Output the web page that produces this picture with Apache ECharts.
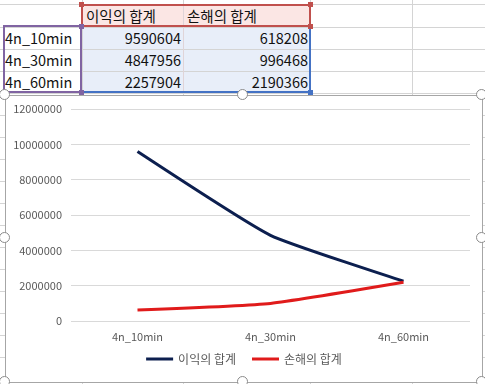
<!DOCTYPE html>
<html>
<head>
<meta charset="utf-8">
<script src="https://cdn.jsdelivr.net/npm/echarts@6/dist/echarts.min.js"></script>
<style>
  html, body { margin:0; padding:0; width:485px; height:384px; overflow:hidden; background:#fff; }
  body { position:relative; font-family:"Noto Sans CJK KR","Noto Sans",sans-serif; }
  .gl { position:absolute; background:#D4D4D4; }
  .cell { position:absolute; box-sizing:border-box; font-size:14.5px; color:#111; line-height:22px; white-space:nowrap; }
  .bd { position:absolute; }
  .sq { position:absolute; width:5px; height:5px; }
  #chartBox { position:absolute; left:5px; top:95px; width:476px; height:286px; border:1px solid #A6A6A6; background:#fff; }
  #chart { width:476px; height:286px; }
  .handle { position:absolute; width:9px; height:9px; border:1.5px solid #8A8A8A; border-radius:50%; background:#fff; }
</style>
</head>
<body>
<div id="sheet"></div>
<div id="chartBox"><div id="chart"></div></div>
<div id="handles"></div>
<script>
// ---- data ----
const categories = ['4n_10min', '4n_30min', '4n_60min'];
const seriesNames = ['이익의 합계', '손해의 합계'];
const profitValues = [9590604, 4847956, 2257904];
const lossValues = [618208, 996468, 2190366];
const yTicks = [0, 2000000, 4000000, 6000000, 8000000, 10000000, 12000000];

// ---- spreadsheet drawing ----
const sheet = document.getElementById('sheet');
const colX = [0, 82, 183, 310, 412, 485];
const rowY = [4, 27, 49, 71, 93, 115, 137, 159, 181, 203, 225, 247, 269, 291, 313, 335, 357, 379];
function add(cls, style, text) {
  const d = document.createElement('div');
  d.className = cls;
  Object.assign(d.style, style);
  if (text !== undefined) d.textContent = text;
  sheet.appendChild(d);
  return d;
}
// fills
add('bd', {left:'82px', top:'4px', width:'228px', height:'23px', background:'#FBE6E4'});
add('bd', {left:'82px', top:'27px', width:'228px', height:'66px', background:'#E8EEF9'});
// grid lines
colX.slice(1, 5).forEach(x => add('gl', {left:x+'px', top:'0px', width:'1px', height:'384px'}));
rowY.forEach(y => add('gl', {left:'0px', top:y+'px', width:'485px', height:'1px'}));
add('gl', {left:'183px', top:'4px', width:'1px', height:'89px', background:'#E0D4D8'});
// header text
seriesNames.forEach((n, i) => {
  add('cell', {left:(colX[i+1]+4)+'px', top:'4px', height:'23px', lineHeight:'23px'}, n);
});
// rows
categories.forEach((c, r) => {
  const top = rowY[r+1];
  add('cell', {left:'5px', top:top+'px'}, c);
  add('cell', {left:'82px', top:top+'px', width:'99px', textAlign:'right'}, String(profitValues[r]));
  add('cell', {left:'183px', top:top+'px', width:'125px', textAlign:'right'}, String(lossValues[r]));
});
// selection borders
const red = '#C0504D', purple = '#8064A2', blue = '#4472C4';
add('bd', {left:'81px', top:'4px', width:'230px', height:'2px', background:red});
add('bd', {left:'81px', top:'25px', width:'230px', height:'2px', background:red});
add('bd', {left:'81px', top:'4px', width:'2px', height:'23px', background:red});
add('bd', {left:'309px', top:'4px', width:'2px', height:'23px', background:red});
add('bd', {left:'3px', top:'25px', width:'79px', height:'2px', background:purple});
add('bd', {left:'3px', top:'91px', width:'79px', height:'2px', background:purple});
add('bd', {left:'3px', top:'25px', width:'2px', height:'68px', background:purple});
add('bd', {left:'80px', top:'25px', width:'2px', height:'68px', background:purple});
add('bd', {left:'84px', top:'91px', width:'227px', height:'2px', background:blue});
add('bd', {left:'309px', top:'29px', width:'2px', height:'64px', background:blue});
[[79,2,red],[308,2,red],[79,24,red],[308,24,red],[79,24,purple],[79,90,purple],[308,90,blue]].forEach(s => {
  add('sq', {left:s[0]+'px', top:s[1]+'px', background:s[2]});
});

// ---- chart ----
const chart = echarts.init(document.getElementById('chart'), null, {renderer:'canvas'});
const txt = '#595959';
const font = '"Noto Sans CJK KR","Noto Sans",sans-serif';
chart.setOption({
  animation:false,
  textStyle:{fontFamily:font},
  grid:{left:65, right:12, top:13, bottom:61},
  legend:{
    data:seriesNames, bottom:12, left:'center', itemGap:16,
    itemWidth:27, itemHeight:3, icon:'rect',
    textStyle:{color:txt, fontSize:12, fontFamily:font}
  },
  xAxis:{
    type:'category', data:categories, boundaryGap:true,
    axisLine:{show:false}, axisTick:{show:false},
    axisLabel:{color:txt, fontSize:11, margin:10, fontFamily:font}
  },
  yAxis:{
    type:'value', min:yTicks[0], max:yTicks[yTicks.length-1], interval:yTicks[1]-yTicks[0],
    axisLine:{show:false}, axisTick:{show:false},
    axisLabel:{color:txt, fontSize:11, margin:9, fontFamily:font, formatter:v => String(v)},
    splitLine:{lineStyle:{color:'#D9D9D9', width:1}}
  },
  series:[
    {name:seriesNames[0], type:'line', data:profitValues, smooth:0.15, showSymbol:false, symbol:'none',
     lineStyle:{color:'#0C1F4F', width:3}, itemStyle:{color:'#0C1F4F'}},
    {name:seriesNames[1], type:'line', data:lossValues, smooth:0.15, showSymbol:false, symbol:'none',
     lineStyle:{color:'#E01B1B', width:3}, itemStyle:{color:'#E01B1B'}}
  ]
});

// ---- handles ----
const hs = document.getElementById('handles');
[[5,95],[243,95],[482,95],[5,238],[482,238],[5,382],[243,382],[482,382]].forEach(p => {
  const d = document.createElement('div');
  d.className = 'handle';
  d.style.left = (p[0]-6)+'px';
  d.style.top = (p[1]-6)+'px';
  hs.appendChild(d);
});
</script>
</body>
</html>
